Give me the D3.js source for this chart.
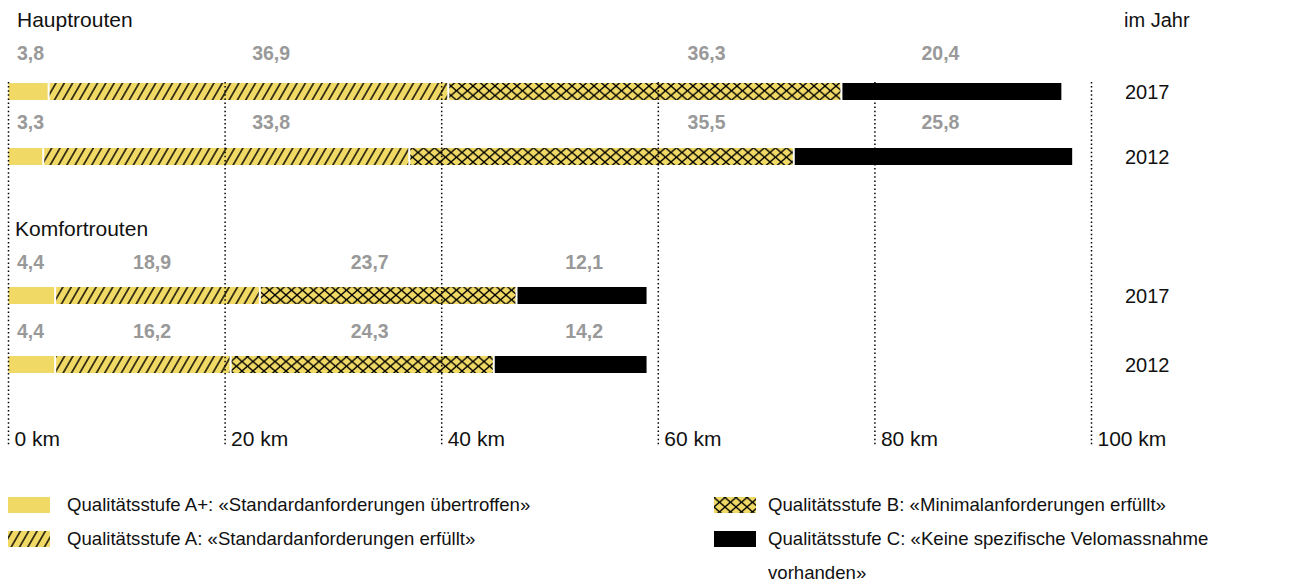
<!DOCTYPE html>
<html>
<head>
<meta charset="utf-8">
<script src="https://cdn.jsdelivr.net/npm/d3@7"></script>
<style>
  body { margin: 0; background: #fff; }
  text { font-family: "Liberation Sans", Arial, Helvetica, sans-serif; fill: #111; }
  .valueText { font-weight: bold; fill: #999; font-size: 19.5px; }
  .axisText { font-size: 21px; }
  .yearText { font-size: 20px; }
  .legendText { font-size: 18.6px; }
</style>
</head>
<body>
<div id="chart"></div>
<script>
// data
var groups = ["Hauptrouten", "Komfortrouten"];
var years = ["2017", "2012"];
var levels = ["A+", "A", "B", "C"];
var haupt2017 = [3.8, 36.9, 36.3, 20.4];
var haupt2012 = [3.3, 33.8, 35.5, 25.8];
var komfort2017 = [4.4, 18.9, 23.7, 12.1];
var komfort2012 = [4.4, 16.2, 24.3, 14.2];
var tickValues = [0, 20, 40, 60, 80, 100];
var legendLabels = [
  "Qualitätsstufe A+: «Standardanforderungen übertroffen»",
  "Qualitätsstufe A: «Standardanforderungen erfüllt»",
  "Qualitätsstufe B: «Minimalanforderungen erfüllt»",
  "Qualitätsstufe C: «Keine spezifische Velomassnahme|vorhanden»"
];

// layout
var svgWidth = 1302;
var svgHeight = 588;
var barHeight = 17;
var yellow = "#f0d964";
// km positions where the value labels of each group start
var labelKm = [[0.78, 22.5, 62.7, 84.3], [0.78, 11.5, 31.6, 51.4]];

var rows = [
  { group: 0, year: years[0], values: haupt2017, top: 83, labelY: 60 },
  { group: 0, year: years[1], values: haupt2012, top: 148, labelY: 129 },
  { group: 1, year: years[0], values: komfort2017, top: 287, labelY: 269 },
  { group: 1, year: years[1], values: komfort2012, top: 356, labelY: 338 }
];

var fmt = d3.formatLocale({ decimal: ",", thousands: "'", grouping: [3], currency: ["", ""] }).format(".1f");

var svg = d3.select("#chart")
  .append("svg")
  .attr("width", svgWidth)
  .attr("height", svgHeight);

var xScale = d3.scaleLinear()
  .domain([0, 100])
  .range([8.5, 1091.5]);

// patterns
var defs = svg.append("defs");

var hatch = defs.append("pattern")
  .attr("id", "hatch")
  .attr("patternUnits", "userSpaceOnUse")
  .attr("width", 7.2)
  .attr("height", 10)
  .attr("patternTransform", "rotate(30)");
hatch.append("rect").attr("width", 7.2).attr("height", 10).attr("fill", yellow);
hatch.append("line")
  .attr("x1", 3.6).attr("y1", -1).attr("x2", 3.6).attr("y2", 11)
  .attr("stroke", "#000").attr("stroke-width", 1.4);

var cross = defs.append("pattern")
  .attr("id", "cross")
  .attr("patternUnits", "userSpaceOnUse")
  .attr("width", 11)
  .attr("height", 9.5)
  .attr("y", 0.5);
cross.append("rect").attr("width", 11).attr("height", 9.5).attr("fill", yellow);
cross.append("path")
  .attr("d", "M0,0L11,9.5M0,9.5L11,0")
  .attr("stroke", "#000").attr("stroke-width", 1.3);

var fills = [yellow, "url(#hatch)", "url(#cross)", "#000"];

// bars
rows.forEach(function(row) {
  var starts = [];
  var sum = 0;
  row.values.forEach(function(v) { starts.push(sum); sum += v; });

  svg.append("g")
    .selectAll("rect")
    .data(row.values)
    .enter()
    .append("rect")
    .attr("x", (d, i) => xScale(starts[i]))
    .attr("y", row.top)
    .attr("width", d => xScale(d) - xScale(0) - 2)
    .attr("height", barHeight)
    .attr("fill", (d, i) => fills[i]);

  svg.append("g")
    .selectAll("text")
    .data(row.values)
    .enter()
    .append("text")
    .attr("class", "valueText")
    .attr("x", (d, i) => xScale(labelKm[row.group][i]))
    .attr("y", row.labelY)
    .text(d => fmt(d));

  svg.append("text")
    .attr("class", "yearText")
    .attr("x", 1125)
    .attr("y", row.top + barHeight / 2 + 7)
    .text(row.year);
});

// dotted grid lines
svg.append("g")
  .selectAll("line")
  .data(tickValues)
  .enter()
  .append("line")
  .attr("x1", d => xScale(d))
  .attr("x2", d => xScale(d))
  .attr("y1", 82)
  .attr("y2", 447)
  .attr("stroke", "#000")
  .attr("stroke-width", 1.5)
  .attr("stroke-dasharray", "1.5,2.6");

svg.append("g")
  .selectAll("text")
  .data(tickValues)
  .enter()
  .append("text")
  .attr("class", "axisText")
  .attr("x", d => xScale(d) + 6)
  .attr("y", 446)
  .text(d => d + " km");

// titles
svg.append("text").attr("class", "axisText").attr("x", 17).attr("y", 27).text(groups[0]);
svg.append("text").attr("class", "axisText").attr("x", 15).attr("y", 236).text(groups[1]);
svg.append("text").attr("class", "yearText").attr("x", 1124).attr("y", 27).text("im Jahr");

// legend
var legendPos = [
  { x: 8, y: 497 },
  { x: 8, y: 531 },
  { x: 714, y: 497 },
  { x: 714, y: 531 }
];

var legend = svg.append("g")
  .selectAll("g")
  .data(levels)
  .enter()
  .append("g")
  .attr("transform", (d, i) => `translate(${legendPos[i].x}, ${legendPos[i].y})`);

legend.append("rect")
  .attr("width", 42)
  .attr("height", 16)
  .attr("fill", (d, i) => fills[i]);

legend.each(function(d, i) {
  var lines = legendLabels[i].split("|");
  var t = d3.select(this).append("text")
    .attr("class", "legendText")
    .attr("y", 14);
  lines.forEach(function(l, j) {
    t.append("tspan")
      .attr("x", (i < 2 ? 59 : 54))
      .attr("dy", j === 0 ? 0 : 34)
      .text(l);
  });
});
</script>
</body>
</html>
